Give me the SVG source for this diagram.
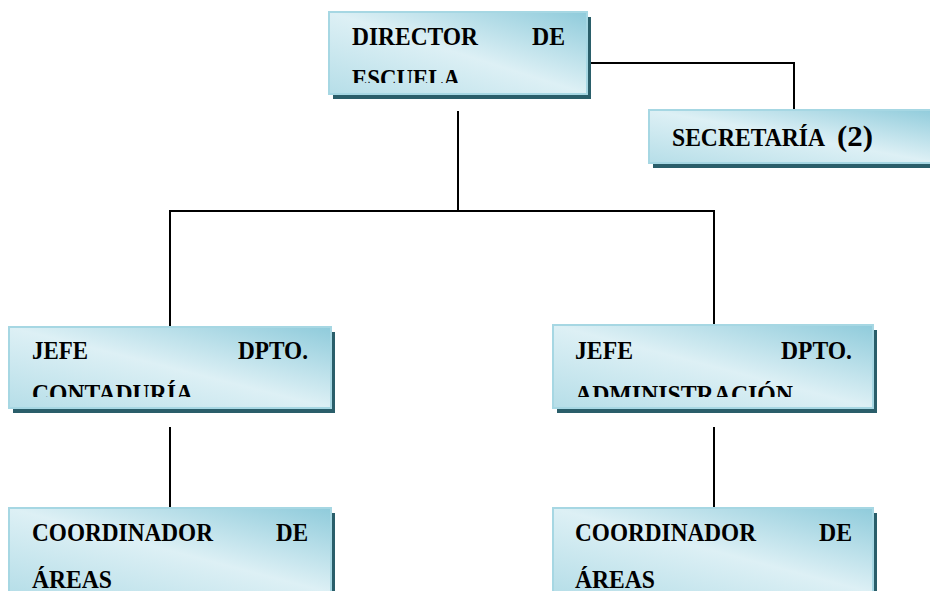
<svg xmlns="http://www.w3.org/2000/svg" width="930" height="591" viewBox="0 0 930 591">
<defs>
<linearGradient id="g" x1="1" y1="0" x2="0" y2="1">
<stop offset="0" stop-color="#8fcbdb"/>
<stop offset="0.5" stop-color="#ddf0f5"/>
<stop offset="1" stop-color="#b6dee8"/>
</linearGradient>
<clipPath id="c1"><rect x="329" y="12" width="258" height="71"/></clipPath>
<clipPath id="c2"><rect x="9" y="327" width="322" height="70"/></clipPath>
<clipPath id="c3"><rect x="553" y="325" width="320" height="72"/></clipPath>
<clipPath id="c4"><rect x="9" y="508" width="322" height="80"/></clipPath>
<clipPath id="c5"><rect x="553" y="508" width="320" height="80"/></clipPath>
</defs>
<style>
.sh{fill:#2a5e6a}
.bx{fill:url(#g);stroke:#a6d7e3;stroke-width:2}
.t{font-family:'Liberation Serif','Times New Roman','DejaVu Serif',serif;font-weight:700;font-size:25px;fill:#000}
.ln{fill:none;stroke:#000;stroke-width:2}
</style>
<rect width="930" height="591" fill="#fff"/>
<g id="connectors">
<path class="ln" d="M458 111V211"/>
<path class="ln" d="M170 327V211H714V325"/>
<path class="ln" d="M587 63H794V111"/>
<path class="ln" d="M170 427V508"/>
<path class="ln" d="M714 427V508"/>
</g>
<g id="director">
<rect class="sh" x="333" y="17" width="258" height="82"/>
<rect class="bx" x="329" y="12" width="258" height="82"/>
<g clip-path="url(#c1)">
<text class="t" x="352" y="45" textLength="126" lengthAdjust="spacingAndGlyphs">DIRECTOR</text>
<text class="t" x="532" y="45" textLength="33" lengthAdjust="spacingAndGlyphs">DE</text>
<text class="t" x="352" y="87" textLength="108" lengthAdjust="spacingAndGlyphs">ESCUELA</text>
</g>
</g>
<g id="secretaria">
<rect class="sh" x="653" y="115" width="290" height="53"/>
<rect class="bx" x="649" y="110" width="290" height="53"/>
<text class="t" x="672" y="146"><tspan textLength="153" lengthAdjust="spacingAndGlyphs">SECRETARÍA</tspan><tspan font-size="29" x="837" textLength="36" lengthAdjust="spacingAndGlyphs">(2)</tspan></text>
</g>
<g id="jefe-contaduria">
<rect class="sh" x="13" y="332" width="322" height="81"/>
<rect class="bx" x="9" y="327" width="322" height="81"/>
<g clip-path="url(#c2)">
<text class="t" x="32" y="359" textLength="56" lengthAdjust="spacingAndGlyphs">JEFE</text>
<text class="t" x="238" y="359" textLength="70" lengthAdjust="spacingAndGlyphs">DPTO.</text>
<text class="t" x="32" y="402" textLength="161" lengthAdjust="spacingAndGlyphs">CONTADURÍA</text>
</g>
</g>
<g id="jefe-administracion">
<rect class="sh" x="557" y="330" width="320" height="83"/>
<rect class="bx" x="553" y="325" width="320" height="83"/>
<g clip-path="url(#c3)">
<text class="t" x="575" y="359" textLength="58" lengthAdjust="spacingAndGlyphs">JEFE</text>
<text class="t" x="781" y="359" textLength="71" lengthAdjust="spacingAndGlyphs">DPTO.</text>
<text class="t" x="575" y="403" textLength="218" lengthAdjust="spacingAndGlyphs">ADMINISTRACIÓN</text>
</g>
</g>
<g id="coordinador-1">
<rect class="sh" x="13" y="513" width="322" height="85"/>
<rect class="bx" x="9" y="508" width="322" height="85"/>
<g clip-path="url(#c4)">
<text class="t" x="32" y="541" textLength="181" lengthAdjust="spacingAndGlyphs">COORDINADOR</text>
<text class="t" x="276" y="541" textLength="32" lengthAdjust="spacingAndGlyphs">DE</text>
<text class="t" x="32" y="588" textLength="80" lengthAdjust="spacingAndGlyphs">ÁREAS</text>
</g>
</g>
<g id="coordinador-2">
<rect class="sh" x="557" y="513" width="320" height="85"/>
<rect class="bx" x="553" y="508" width="320" height="85"/>
<g clip-path="url(#c5)">
<text class="t" x="575" y="541" textLength="181" lengthAdjust="spacingAndGlyphs">COORDINADOR</text>
<text class="t" x="819" y="541" textLength="33" lengthAdjust="spacingAndGlyphs">DE</text>
<text class="t" x="575" y="588" textLength="80" lengthAdjust="spacingAndGlyphs">ÁREAS</text>
</g>
</g>
</svg>
